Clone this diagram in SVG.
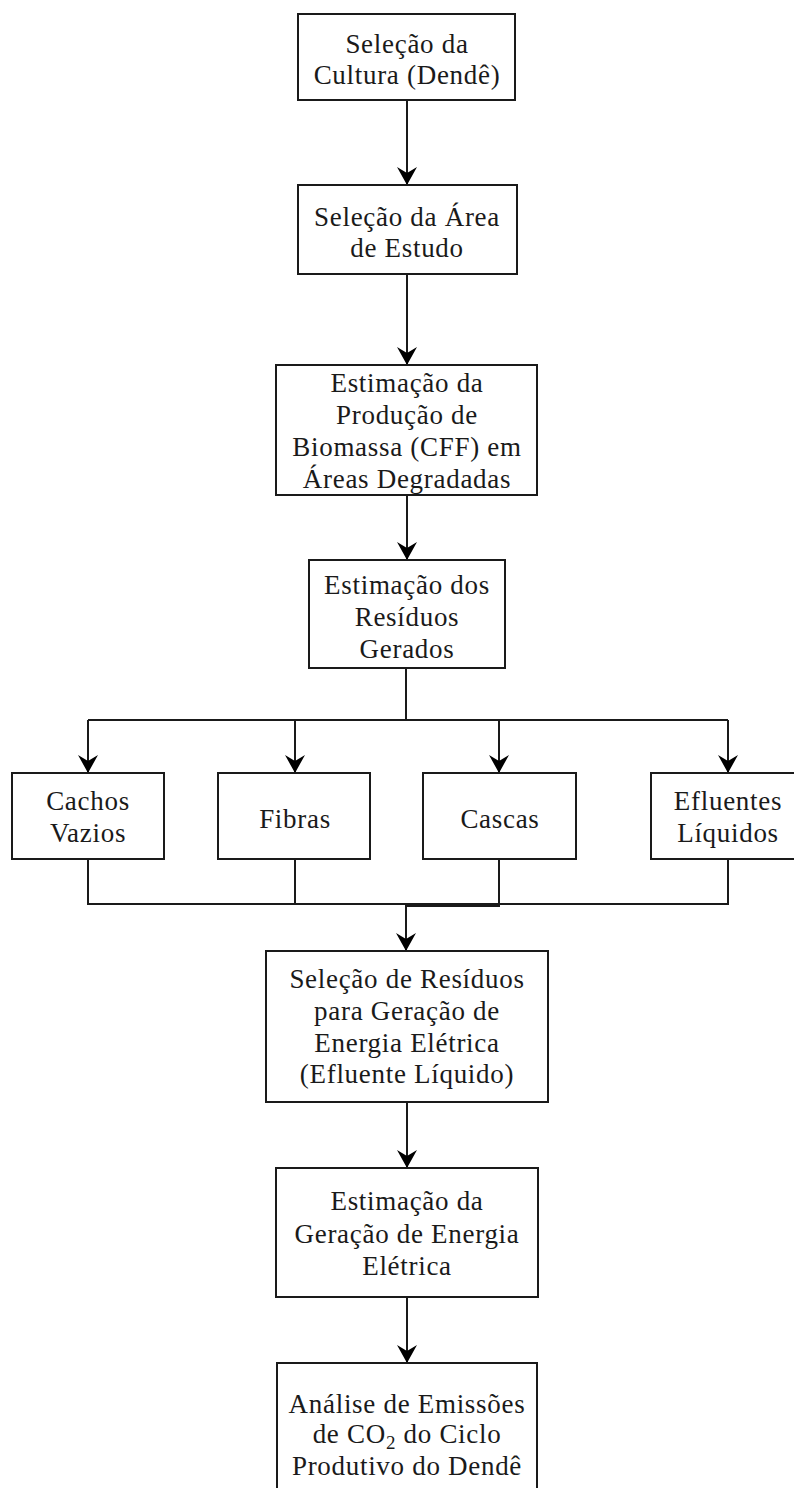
<svg xmlns="http://www.w3.org/2000/svg" width="794" height="1488" viewBox="0 0 794 1488">
<style>
.box{fill:#fff;stroke:#1a1a1a;stroke-width:2}
.t{font-family:"Liberation Serif","Times New Roman",serif;font-size:27px;letter-spacing:0.7px;fill:#1a1a1a;text-anchor:middle}
.c{fill:none;stroke:#1a1a1a;stroke-width:2}
</style>
<defs>
<marker id="arr" viewBox="0 0 18 20" refX="18" refY="10" markerWidth="18" markerHeight="20" markerUnits="userSpaceOnUse" orient="auto">
<path d="M0,0 L18,10 L0,20 L6,10 Z" fill="#000"/>
</marker>
</defs>
<rect width="794" height="1488" fill="#fff"/>
<g id="connectors">
<line class="c" x1="407" y1="100" x2="407" y2="185" marker-end="url(#arr)"/>
<line class="c" x1="407" y1="274" x2="407" y2="365" marker-end="url(#arr)"/>
<line class="c" x1="407" y1="495" x2="407" y2="560" marker-end="url(#arr)"/>
<polyline class="c" points="406,668 406,720"/>
<polyline class="c" points="88,720 728,720"/>
<line class="c" x1="88" y1="720" x2="88" y2="773" marker-end="url(#arr)"/>
<line class="c" x1="295" y1="720" x2="295" y2="773" marker-end="url(#arr)"/>
<line class="c" x1="499" y1="720" x2="499" y2="773" marker-end="url(#arr)"/>
<line class="c" x1="728" y1="720" x2="728" y2="773" marker-end="url(#arr)"/>
<polyline class="c" points="88,859 88,904 728,904 728,859"/>
<polyline class="c" points="295,859 295,904"/>
<polyline class="c" points="499,859 499,906 406,906"/>
<line class="c" x1="406" y1="904" x2="406" y2="951" marker-end="url(#arr)"/>
<line class="c" x1="407" y1="1102" x2="407" y2="1168" marker-end="url(#arr)"/>
<line class="c" x1="407" y1="1297" x2="407" y2="1363" marker-end="url(#arr)"/>
</g>
<g id="n1">
<rect class="box" x="298" y="14" width="217" height="86"/>
<text class="t" x="407" y="53">Seleção da</text>
<text class="t" x="407" y="84">Cultura (Dendê)</text>
</g>
<g id="n2">
<rect class="box" x="298" y="185" width="219" height="89"/>
<text class="t" x="407" y="226">Seleção da Área</text>
<text class="t" x="407" y="257">de Estudo</text>
</g>
<g id="n3">
<rect class="box" x="276" y="365" width="261" height="130"/>
<text class="t" x="407" y="392">Estimação da</text>
<text class="t" x="407" y="424">Produção de</text>
<text class="t" x="407" y="456">Biomassa (CFF) em</text>
<text class="t" x="407" y="488">Áreas Degradadas</text>
</g>
<g id="n4">
<rect class="box" x="309" y="560" width="196" height="108"/>
<text class="t" x="407" y="594">Estimação dos</text>
<text class="t" x="407" y="626">Resíduos</text>
<text class="t" x="407" y="658">Gerados</text>
</g>
<g id="n5">
<rect class="box" x="12" y="773" width="152" height="86"/>
<text class="t" x="88" y="810">Cachos</text>
<text class="t" x="88" y="842">Vazios</text>
</g>
<g id="n6">
<rect class="box" x="218" y="773" width="152" height="86"/>
<text class="t" x="295" y="828">Fibras</text>
</g>
<g id="n7">
<rect class="box" x="423" y="773" width="153" height="86"/>
<text class="t" x="500" y="828">Cascas</text>
</g>
<g id="n8">
<rect class="box" x="651" y="773" width="154" height="86"/>
<text class="t" x="728" y="810">Efluentes</text>
<text class="t" x="728" y="842">Líquidos</text>
</g>
<g id="n9">
<rect class="box" x="266" y="951" width="282" height="151"/>
<text class="t" x="407" y="988">Seleção de Resíduos</text>
<text class="t" x="407" y="1020">para Geração de</text>
<text class="t" x="407" y="1052">Energia Elétrica</text>
<text class="t" x="407" y="1083">(Efluente Líquido)</text>
</g>
<g id="n10">
<rect class="box" x="276" y="1168" width="262" height="129"/>
<text class="t" x="407" y="1210">Estimação da</text>
<text class="t" x="407" y="1243">Geração de Energia</text>
<text class="t" x="407" y="1275">Elétrica</text>
</g>
<g id="n11">
<rect class="box" x="277" y="1363" width="260" height="140"/>
<text class="t" x="407" y="1413">Análise de Emissões</text>
<text class="t" x="407" y="1443">de CO<tspan font-size="19" dy="6">2</tspan><tspan dy="-6"> do Ciclo</tspan></text>
<text class="t" x="407" y="1475">Produtivo do Dendê</text>
</g>
</svg>
